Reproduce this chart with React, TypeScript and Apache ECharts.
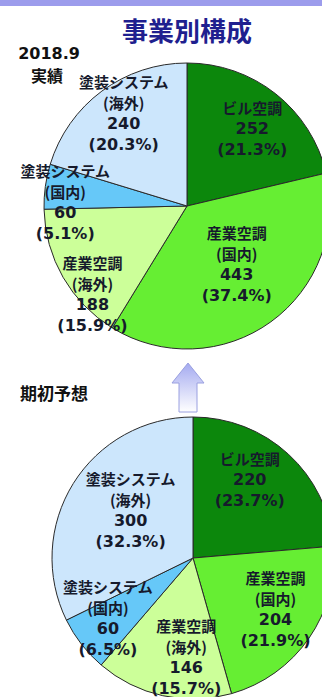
import React, { useEffect, useRef } from "react";
import * as echarts from "echarts";

const categories = ["ビル空調", "産業空調(国内)", "産業空調(海外)", "塗装システム(国内)", "塗装システム(海外)"];
const actual2018 = [252, 443, 188, 60, 240];
const forecastInitial = [220, 204, 146, 60, 300];
const titleText = "事業別構成";
const topPeriodLines = ["2018.9", "実績"];
const bottomPeriodLabel = "期初予想";

const sliceColors = ["#0c870c", "#66ee33", "#ccff99", "#66c8f8", "#cce6fc"];
const topLabelOffsets = [[19, -19], [6, -2], [-30, 51], [-48, 6], [-19, -33]];
const bottomLabelOffsets = [[7, -24], [22, 9], [9, 27], [-27, 15], [0, -9]];

function makeFormatter(values: number[]) {
  const total = values.reduce((a, b) => a + b, 0);
  return (p: any) => {
    const name: string = p.name;
    const i = name.indexOf("(");
    const nameLines = i >= 0 ? [name.slice(0, i), name.slice(i)] : [name];
    const pct = ((p.value / total) * 100).toFixed(1);
    return [...nameLines.map((s) => `{j|${s}}`), `{n|${p.value}}`, `{n|(${pct}%)}`].join("\n");
  };
}

function pieSeries(values: number[], center: number[], radius: number, offsets: number[][]) {
  return {
    type: "pie",
    center,
    radius,
    startAngle: 90,
    clockwise: true,
    silent: true,
    data: categories.map((c, i) => ({ name: c, value: values[i], itemStyle: { color: sliceColors[i] } })),
    itemStyle: { borderColor: "#2a2a2a", borderWidth: 1 },
    label: {
      show: true,
      position: "inside",
      color: "#161a2c",
      formatter: makeFormatter(values),
      rich: {
        j: { fontFamily: "Noto Sans CJK JP", fontWeight: "bold", fontSize: 15, lineHeight: 21, color: "#161a2c" },
        n: { fontFamily: "DejaVu Sans", fontWeight: "bold", fontSize: 16, lineHeight: 21, color: "#161a2c" },
      },
    },
    labelLine: { show: false },
    labelLayout: (params: any) => ({ dx: offsets[params.dataIndex][0], dy: offsets[params.dataIndex][1] }),
    emphasis: { disabled: true },
  };
}

export default function App() {
  const ref = useRef<HTMLDivElement>(null);
  useEffect(() => {
    document.body.style.margin = "0";
    const chart = echarts.init(ref.current!, null, { renderer: "svg" });
    chart.setOption({
      animation: false,
      backgroundColor: "#ffffff",
      series: [
        pieSeries(actual2018, [187, 206], 143, topLabelOffsets),
        pieSeries(forecastInitial, [193, 558], 141, bottomLabelOffsets),
      ],
      graphic: [
        { type: "rect", shape: { x: 0, y: 0, width: 322, height: 6 }, style: { fill: "#9c9cec" } },
        {
          type: "text", x: 187, y: 29,
          style: { text: titleText, font: "bold 26px 'Noto Sans CJK JP'", fill: "#1f1f8f", align: "center", verticalAlign: "middle", textAlign: "center", textVerticalAlign: "middle" },
        },
        {
          type: "text", x: 49, y: 53,
          style: { text: topPeriodLines[0], font: "bold 16px 'DejaVu Sans'", fill: "#111", align: "center", verticalAlign: "middle", textAlign: "center", textVerticalAlign: "middle" },
        },
        {
          type: "text", x: 47, y: 75,
          style: { text: topPeriodLines[1], font: "bold 16px 'Noto Sans CJK JP'", fill: "#111", align: "center", verticalAlign: "middle", textAlign: "center", textVerticalAlign: "middle" },
        },
        {
          type: "text", x: 20, y: 392,
          style: { text: bottomPeriodLabel, font: "bold 17px 'Noto Sans CJK JP'", fill: "#111", align: "left", verticalAlign: "middle", textAlign: "left", textVerticalAlign: "middle" },
        },
        {
          type: "polygon",
          shape: { points: [[188, 363], [204, 383], [197, 383], [197, 412], [179, 412], [179, 383], [172, 383]] },
          style: {
            fill: new echarts.graphic.LinearGradient(0, 0, 0, 1, [
              { offset: 0, color: "#a4aaf0" },
              { offset: 1, color: "#ffffff" },
            ]),
            stroke: "#9aa0e0",
            lineWidth: 1,
          },
        },
      ],
    });
    return () => chart.dispose();
  }, []);
  return <div ref={ref} style={{ position: "fixed", left: 0, top: 0, width: 322, height: 697 }} />;
}
